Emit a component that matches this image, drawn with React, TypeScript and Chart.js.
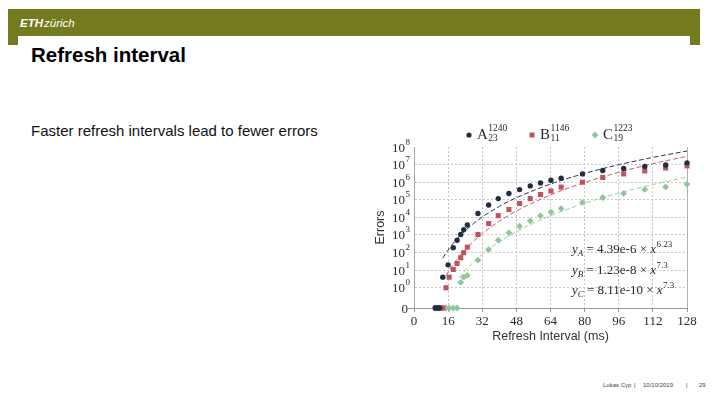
import React, { useEffect, useRef } from 'react';
import { Chart, registerables } from 'chart.js';

Chart.register(...registerables);

// ---------- texts ----------
const TITLE = 'Refresh interval';
const SUBTITLE = 'Faster refresh intervals lead to fewer errors';
const FOOTER_AUTHOR = 'Lukas Cyp';
const FOOTER_DATE = '10/10/2019';
const FOOTER_PAGE = '29';
const X_TITLE = 'Refresh Interval (ms)';
const Y_TITLE = 'Errors';

// ---------- axes ----------
const X_TICKS = [0, 16, 32, 48, 64, 80, 96, 112, 128];
const Y_TICKS = [0, 1, 10, 100, 1e3, 1e4, 1e5, 1e6, 1e7, 1e8];
const Y_ZERO_POS = Math.pow(10, -1.15); // where the "0" row sits on the log axis

// ---------- legend ----------
const SERIES_NAMES = ['A', 'B', 'C'];
const SERIES_SUP = ['1240', '1146', '1223'];
const SERIES_SUB = ['23', '11', '19'];

// ---------- fit formulas (as printed) ----------
const FIT_COEFS = ['4.39e-6', '1.23e-8', '8.11e-10'];
const FIT_EXPS = ['6.23', '7.3', '7.3'];

// ---------- measured errors ----------
const A_X = [10, 11, 12, 13.5, 16, 18.4, 20.2, 21.9, 23.3, 25, 30, 35, 39.5, 44.5, 49.5, 54.5, 59.3, 64.2, 69, 79, 88.5, 98.3, 108.2, 118, 128];
const A_ERRORS = [0, 0, 0, 4, 20, 190, 500, 1070, 2000, 3700, 16600, 51000, 117000, 229000, 380000, 617000, 912000, 1290000, 1700000, 2950000, 4600000, 6000000, 7900000, 9500000, 12600000];

const B_X = [10, 11, 12, 13.5, 15, 16.5, 18.4, 20.2, 21.9, 23.3, 25, 30, 35, 39.5, 44.5, 49.5, 54.5, 59.3, 64.2, 69, 79, 88.5, 98.3, 108.2, 118, 128];
const B_ERRORS = [0, 0, 0, 0, 1, 4, 11, 24, 51, 98, 204, 1070, 4470, 12600, 28000, 62000, 117000, 200000, 316000, 525000, 1000000, 1860000, 2950000, 4370000, 6460000, 8500000];

const C_X = [10, 11, 12, 13.5, 15, 16.5, 18.4, 20.2, 21.9, 23.3, 25, 30, 35, 39.5, 44.5, 49.5, 54.5, 59.3, 64.2, 69, 79, 88.5, 98.3, 108.2, 118, 128];
const C_ERRORS = [0, 0, 0, 0, 0, 0, 0, 0, 2, 4, 5, 37, 148, 500, 1320, 3160, 6300, 12300, 20000, 31600, 70800, 135000, 229000, 389000, 537000, 776000];

// ---------- fitted curves ----------
const FIT_A_X = [13.5, 14, 15, 16, 18, 20, 24, 28, 32, 40, 48, 64, 80, 96, 112, 128];
const FIT_A = [48, 61, 93, 139, 290, 558, 1740, 4550, 10450, 42000, 130600, 785000, 3150000, 9800000, 25600000, 58900000];
const FIT_B_X = [15, 16, 18, 20, 24, 28, 32, 40, 48, 64, 80, 96, 112, 128];
const FIT_B = [4.7, 7.6, 17.9, 38.6, 146, 452, 1195, 6100, 23070, 188000, 961000, 3640000, 11200000, 29700000];
const FIT_C_X = [21, 22, 24, 28, 32, 40, 48, 64, 80, 96, 112, 128];
const FIT_C = [3.64, 5.1, 9.6, 29.8, 78.7, 402, 1520, 12400, 63400, 240000, 738000, 1960000];

// ---------- styles ----------
const OLIVE = '#747b1f';
const DARK = '#222c42';
const RED = '#c1535d';
const GREEN = '#8fc79c';
const DARK_LINE = '#2a3450';
const RED_LINE = '#c95d67';
const GREEN_LINE = '#9ccfa8';
const GRID = '#c6c6c6';
const AXIS = '#9a9a9a';
const TEXT = '#2a2a2a';
const SERIF = '"Liberation Serif", "DejaVu Serif", serif';
const SANS = '"Liberation Sans", Arial, sans-serif';
const COLORS = [DARK, RED, GREEN];
const STYLES = ['circle', 'rect', 'rectRot'];

const toPts = (xs: number[], ys: number[]) =>
  xs.map((x, i) => ({ x, y: ys[i] === 0 ? Y_ZERO_POS : ys[i] }));

function drawMarker(ctx: CanvasRenderingContext2D, style: string, x: number, y: number, color: string) {
  ctx.fillStyle = color;
  ctx.beginPath();
  if (style === 'circle') {
    ctx.arc(x, y, 2.6, 0, Math.PI * 2);
  } else if (style === 'rect') {
    ctx.rect(x - 2.5, y - 2.5, 5, 5);
  } else {
    ctx.moveTo(x, y - 3.4);
    ctx.lineTo(x + 3.4, y);
    ctx.lineTo(x, y + 3.4);
    ctx.lineTo(x - 3.4, y);
    ctx.closePath();
  }
  ctx.fill();
}

const overlayPlugin = {
  id: 'overlay',
  afterDraw(chart: any) {
    const ctx: CanvasRenderingContext2D = chart.ctx;
    const yScale = chart.scales.y;
    ctx.save();
    ctx.fillStyle = TEXT;
    ctx.textBaseline = 'alphabetic';

    // y tick labels: "0" and 10^n
    const right = yScale.right - 9;
    Y_TICKS.forEach((v) => {
      const py = yScale.getPixelForValue(v === 0 ? Y_ZERO_POS : v);
      ctx.fillStyle = TEXT;
      if (v === 0) {
        ctx.font = `13px ${SERIF}`;
        ctx.textAlign = 'right';
        ctx.fillText('0', right + 3, py + 4.5);
      } else {
        const exp = String(Math.round(Math.log10(v)));
        ctx.font = `13px ${SERIF}`;
        ctx.textAlign = 'right';
        ctx.fillText('10', right, py + 4.5);
        ctx.font = `9px ${SERIF}`;
        ctx.textAlign = 'left';
        ctx.fillText(exp, right + 0.5, py - 2.5);
      }
    });

    // legend
    const legendX = [109, 172, 235];
    const legendY = 20;
    SERIES_NAMES.forEach((name, i) => {
      const mx = legendX[i];
      drawMarker(ctx, STYLES[i], mx, legendY, COLORS[i]);
      ctx.fillStyle = TEXT;
      ctx.textAlign = 'left';
      ctx.font = `15px ${SERIF}`;
      const lx = mx + 8;
      ctx.fillText(name, lx, legendY + 3.5);
      const w = ctx.measureText(name).width;
      ctx.font = `9.5px ${SERIF}`;
      ctx.fillText(SERIES_SUP[i], lx + w + 0.5, legendY - 4.5);
      ctx.fillText(SERIES_SUB[i], lx + w + 0.5, legendY + 5.5);
    });

    // fit formulas
    const fx = 212;
    const rows = [138, 159, 179];
    FIT_COEFS.forEach((coef, i) => {
      let x = fx;
      const by = rows[i];
      ctx.fillStyle = TEXT;
      ctx.textAlign = 'left';
      ctx.font = `italic 13px ${SERIF}`;
      ctx.fillText('y', x, by);
      x += ctx.measureText('y').width;
      ctx.font = `italic 9px ${SERIF}`;
      ctx.fillText(SERIES_NAMES[i], x, by + 3);
      x += ctx.measureText(SERIES_NAMES[i]).width;
      ctx.font = `13px ${SERIF}`;
      const mid = ` = ${coef} \u00d7 `;
      ctx.fillText(mid, x, by);
      x += ctx.measureText(mid).width;
      ctx.font = `italic 13px ${SERIF}`;
      ctx.fillText('x', x, by);
      x += ctx.measureText('x').width + 0.5;
      ctx.font = `9px ${SERIF}`;
      ctx.fillText(FIT_EXPS[i], x, by - 6);
    });

    ctx.restore();
  },
};

export default function App() {
  const canvasRef = useRef<HTMLCanvasElement | null>(null);

  useEffect(() => {
    const canvas = canvasRef.current;
    if (!canvas) return;

    const pointSet = (label: string, xs: number[], ys: number[], color: string, style: string, radius: number) => ({
      label,
      data: toPts(xs, ys),
      showLine: false,
      pointStyle: style,
      pointRadius: radius,
      pointBackgroundColor: color,
      pointBorderColor: color,
      pointBorderWidth: 0,
      backgroundColor: color,
      borderColor: color,
      clip: false,
    });
    const fitSet = (label: string, xs: number[], ys: number[], color: string) => ({
      label,
      data: toPts(xs, ys),
      showLine: true,
      pointRadius: 0,
      borderColor: color,
      borderWidth: 1,
      borderDash: [5, 2.5],
      cubicInterpolationMode: 'monotone',
      fill: false,
    });

    const chart = new Chart(canvas, {
      type: 'scatter',
      data: {
        datasets: [
          pointSet('A', A_X, A_ERRORS, DARK, 'circle', 2.7),
          pointSet('B', B_X, B_ERRORS, RED, 'rect', 3.6),
          pointSet('C', C_X, C_ERRORS, GREEN, 'rectRot', 3.4),
          fitSet('fit A', FIT_A_X, FIT_A, DARK_LINE),
          fitSet('fit B', FIT_B_X, FIT_B, RED_LINE),
          fitSet('fit C', FIT_C_X, FIT_C, GREEN_LINE),
        ] as any,
      },
      options: {
        animation: false,
        responsive: false,
        maintainAspectRatio: false,
        events: [],
        layout: { padding: { top: 32, right: 13, left: 0, bottom: 0 } },
        plugins: { legend: { display: false }, tooltip: { enabled: false }, title: { display: false } },
        scales: {
          x: {
            type: 'linear',
            min: 0,
            max: 128,
            afterBuildTicks: (s: any) => {
              s.ticks = X_TICKS.map((v) => ({ value: v }));
            },
            afterFit: (s: any) => {
              s.height = 47;
            },
            ticks: {
              font: { family: SERIF, size: 13 },
              color: TEXT,
              padding: 2,
              maxRotation: 0,
              autoSkip: false,
            },
            grid: {
              color: (c: any) => (c.tick && c.tick.value === 0 ? 'rgba(0,0,0,0)' : c.tick && c.tick.value === 128 ? '#b0b0b0' : GRID),
              lineWidth: 1,
              drawTicks: true,
              tickLength: 4,
              tickColor: AXIS,
            },
            border: {
              display: true,
              color: AXIS,
              width: 1,
              dash: (c: any) => (c.tick && c.tick.value === 128 ? [] : [2, 2]),
            },
            title: {
              display: true,
              text: X_TITLE,
              color: '#333',
              font: { family: SANS, size: 12.5 },
              padding: { top: 0, bottom: 10.5 },
            },
          },
          y: {
            type: 'logarithmic',
            min: Y_ZERO_POS,
            max: 1e8,
            afterBuildTicks: (s: any) => {
              s.ticks = Y_TICKS.map((v) => ({ value: v === 0 ? Y_ZERO_POS : v }));
            },
            afterFit: (s: any) => {
              s.width = 54;
            },
            ticks: { display: false },
            grid: {
              color: (c: any) => {
                const v = c.tick ? c.tick.value : 0;
                return v === Y_ZERO_POS || v === 1e8 ? 'rgba(0,0,0,0)' : GRID;
              },
              lineWidth: 1,
              drawTicks: true,
              tickLength: 6,
              tickColor: (c: any) => (c.tick && c.tick.value === Y_ZERO_POS ? AXIS : 'rgba(0,0,0,0)'),
            },
            border: {
              display: true,
              color: '#a8a8a8',
              width: 1,
              dash: [2, 2],
            },
            title: {
              display: true,
              text: Y_TITLE,
              color: '#333',
              font: { family: SANS, size: 12.5 },
              padding: { top: 13.5, bottom: 0 },
            },
          },
        },
      } as any,
      plugins: [overlayPlugin],
    });

    return () => chart.destroy();
  }, []);

  return (
    <div
      style={{
        position: 'absolute',
        left: 0,
        top: 0,
        width: 720,
        height: 405,
        background: '#ffffff',
        overflow: 'hidden',
        fontFamily: SANS,
      }}
    >
      <div style={{ position: 'absolute', left: 8, top: 9, width: 692, height: 27, background: OLIVE }} />
      <div style={{ position: 'absolute', left: 8, top: 36, width: 10, height: 9, background: OLIVE }} />
      <div style={{ position: 'absolute', left: 690, top: 36, width: 10, height: 9, background: OLIVE }} />
      <div
        style={{
          position: 'absolute',
          left: 20,
          top: 17,
          height: 12,
          lineHeight: '12px',
          color: '#ffffff',
          fontSize: 11.5,
          whiteSpace: 'nowrap',
        }}
      >
        <span style={{ fontWeight: 700, fontStyle: 'italic' }}>ETH</span>
        <span style={{ fontStyle: 'italic', marginLeft: 1 }}>zürich</span>
      </div>
      <div
        style={{
          position: 'absolute',
          left: 31,
          top: 45,
          fontSize: 20.5,
          lineHeight: '20.5px',
          fontWeight: 700,
          color: '#000',
          whiteSpace: 'nowrap',
        }}
      >
        {TITLE}
      </div>
      <div
        style={{
          position: 'absolute',
          left: 31,
          top: 122.5,
          fontSize: 15,
          lineHeight: '15px',
          color: '#111',
          whiteSpace: 'nowrap',
        }}
      >
        {SUBTITLE}
      </div>
      <canvas
        ref={canvasRef}
        width={340}
        height={240}
        style={{ position: 'absolute', left: 360, top: 115, width: 340, height: 240 }}
      />
      <div style={{ position: 'absolute', left: 603, top: 382, fontSize: 6, lineHeight: '6px', color: '#444', whiteSpace: 'nowrap' }}>
        {FOOTER_AUTHOR}
      </div>
      <div style={{ position: 'absolute', left: 634, top: 382, fontSize: 6, lineHeight: '6px', color: '#444' }}>|</div>
      <div style={{ position: 'absolute', left: 643, top: 382, fontSize: 6, lineHeight: '6px', color: '#444', whiteSpace: 'nowrap' }}>
        {FOOTER_DATE}
      </div>
      <div style={{ position: 'absolute', left: 686, top: 382, fontSize: 6, lineHeight: '6px', color: '#444' }}>|</div>
      <div style={{ position: 'absolute', left: 699, top: 382, fontSize: 6, lineHeight: '6px', color: '#444' }}>
        {FOOTER_PAGE}
      </div>
    </div>
  );
}
